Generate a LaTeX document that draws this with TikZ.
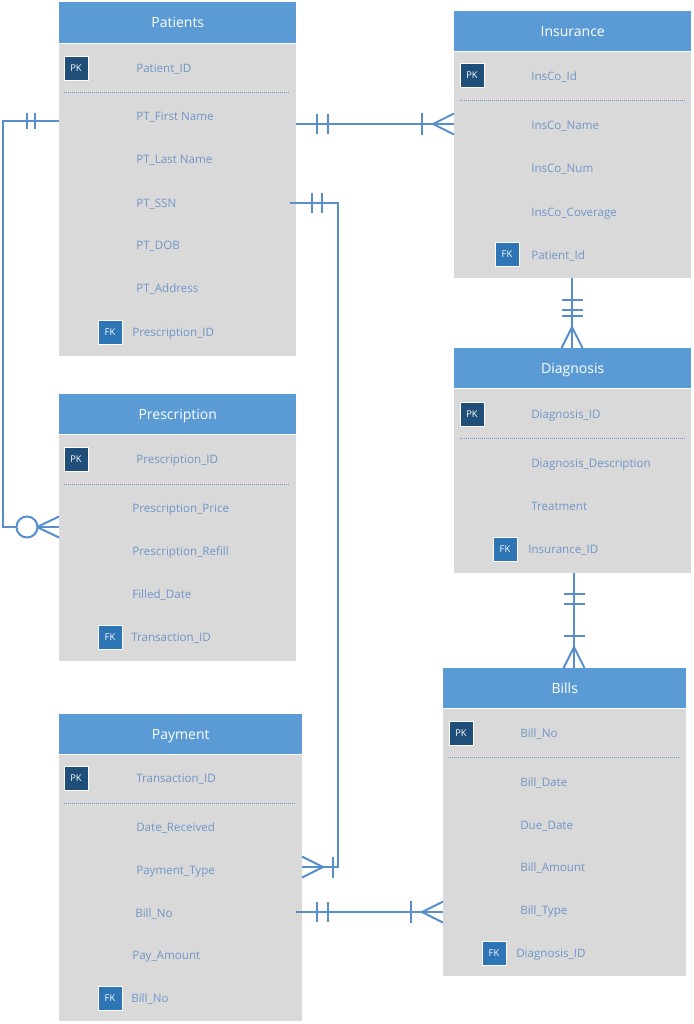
\documentclass[tikz,border=0pt]{standalone}
\usepackage{fontspec}
\setmainfont{Open Sans}
\definecolor{hdrblue}{RGB}{91,155,213}
\definecolor{bodygray}{RGB}{217,217,217}
\definecolor{pkblue}{RGB}{31,78,121}
\definecolor{fkblue}{RGB}{46,117,182}
\definecolor{txtblue}{RGB}{112,150,200}
\definecolor{lineblue}{RGB}{88,142,204}
\newcommand\erTable[7]{%
  \node[hdrbox, minimum width={(#4-#2)*0.75pt}, minimum height={(#5-#3)*0.75pt}] (#1H) at (#2,#3) {#7};
  \node[bodybox, minimum width={(#4-#2)*0.75pt}, minimum height={(#6-#5)*0.75pt}] (#1B) at (#2,#5) {};
  \draw[white, line width=1.2pt] (#1H.south west) -- (#1H.south east);
}
\newcommand\erField[4]{\node[fieldtxt] (#1) at (#2,#3) {#4};}
\newcommand\erPK[3]{\node[keybox, fill=pkblue] (#1) at (#2,#3) {PK};}
\newcommand\erFK[3]{\node[keybox, fill=fkblue] (#1) at (#2,#3) {FK};}
\begin{document}
\begin{tikzpicture}[x=0.75pt,y=-0.75pt,
  hdrbox/.style={fill=hdrblue, anchor=north west, inner sep=0pt, text=white, text height=7.6pt, text depth=0pt, font=\fontsize{10.5}{12}\selectfont},
  bodybox/.style={fill=bodygray, anchor=north west, inner sep=0pt},
  fieldtxt/.style={anchor=west, inner sep=0pt, text=txtblue, text height=6.2pt, text depth=0pt, font=\fontsize{8.7}{10}\selectfont},
  keybox/.style={draw=white, line width=0.6pt, minimum size=18pt, inner sep=0pt, text=white, text height=5pt, text depth=0pt, font=\fontsize{7}{8}\selectfont},
  sepline/.style={draw=txtblue, line width=0.6pt, dash pattern=on 0.75pt off 0.75pt},
  conn/.style={draw=lineblue, line width=1.5pt},
  tickmark/.style={draw=lineblue, line width=1.5pt}
]
\useasboundingbox[fill=white] (0,0) rectangle (693,1024);

% ---------- Patients ----------
\erTable{pat}{59}{2}{296}{43}{356}{Patients}
\erPK{patPK}{76}{68}
\erField{patF0}{136}{68}{Patient\_ID}
\draw[sepline] (64,92) -- (290,92);
\erField{patF1}{136}{116}{PT\_First Name}
\erField{patF2}{136}{159}{PT\_Last Name}
\erField{patF3}{136}{203}{PT\_SSN}
\erField{patF4}{136}{245}{PT\_DOB}
\erField{patF5}{136}{288}{PT\_Address}
\erFK{patFK}{110}{332}
\erField{patF6}{132}{332}{Prescription\_ID}

% ---------- Insurance ----------
\erTable{ins}{454}{11}{691}{51}{278}{Insurance}
\erPK{insPK}{472}{75}
\erField{insF0}{531}{76}{InsCo\_Id}
\draw[sepline] (460,100) -- (686,100);
\erField{insF1}{531}{125}{InsCo\_Name}
\erField{insF2}{531}{168}{InsCo\_Num}
\erField{insF3}{531}{212}{InsCo\_Coverage}
\erFK{insFK}{507}{254}
\erField{insF4}{531}{255}{Patient\_Id}

% ---------- Diagnosis ----------
\erTable{dia}{454}{348}{691}{388}{573}{Diagnosis}
\erPK{diaPK}{472}{414}
\erField{diaF0}{531}{414}{Diagnosis\_ID}
\draw[sepline] (460,438) -- (686,438);
\erField{diaF1}{531}{463}{Diagnosis\_Description}
\erField{diaF2}{531}{506}{Treatment}
\erFK{diaFK}{505}{549}
\erField{diaF3}{528}{549}{Insurance\_ID}

% ---------- Prescription ----------
\erTable{pre}{59}{394}{296}{434}{661}{Prescription}
\erPK{prePK}{76}{459}
\erField{preF0}{136}{459}{Prescription\_ID}
\draw[sepline] (64,484) -- (290,484);
\erField{preF1}{132}{508}{Prescription\_Price}
\erField{preF2}{132}{551}{Prescription\_Refill}
\erField{preF3}{132}{594}{Filled\_Date}
\erFK{preFK}{110}{637}
\erField{preF4}{131}{637}{Transaction\_ID}

% ---------- Bills ----------
\erTable{bil}{443}{668}{686}{708}{976}{Bills}
\erPK{bilPK}{461}{733}
\erField{bilF0}{520}{733}{Bill\_No}
\draw[sepline] (448,757) -- (680,757);
\erField{bilF1}{520}{782}{Bill\_Date}
\erField{bilF2}{520}{825}{Due\_Date}
\erField{bilF3}{520}{867}{Bill\_Amount}
\erField{bilF4}{520}{910}{Bill\_Type}
\erFK{bilFK}{494}{953}
\erField{bilF5}{516}{953}{Diagnosis\_ID}

% ---------- Payment ----------
\erTable{pay}{59}{714}{302}{754}{1021}{Payment}
\erPK{payPK}{76}{778}
\erField{payF0}{136}{778}{Transaction\_ID}
\draw[sepline] (64,803) -- (296,803);
\erField{payF1}{136}{827}{Date\_Received}
\erField{payF2}{136}{870}{Payment\_Type}
\erField{payF3}{135}{913}{Bill\_No}
\erField{payF4}{132}{955}{Pay\_Amount}
\erFK{payFK}{110}{998}
\erField{payF5}{131}{998}{Bill\_No}

% ---------- connector points ----------
\coordinate (patL) at (59,121);
\coordinate (k1a) at (3,121);
\coordinate (k1b) at (3,527);
\coordinate (preL) at (59,527);
\coordinate (patR) at (296,124);
\coordinate (insL) at (454,124);
\coordinate (patS) at (290,203);
\coordinate (k3a) at (338,203);
\coordinate (k3b) at (338,867);
\coordinate (payR) at (302,867);
\coordinate (payB) at (296,912);
\coordinate (bilL) at (443,912);
\coordinate (insB) at (572,278);
\coordinate (diaT) at (572,348);
\coordinate (diaB) at (574,573);
\coordinate (bilT) at (574,668);

% 1 Patients -> Prescription (one to zero-or-many)
\draw[conn] (patL) -- (k1a) -- (k1b) -- (preL);
\draw[tickmark] (27,113) -- (27,129) (35,113) -- (35,129);
\draw[tickmark, fill=white] (27,527) circle[radius=10.5];
\draw[tickmark] (37,527) -- (59,516.5) (37,527) -- (59,537.5);

% 2 Patients -> Insurance (one to one-or-many)
\draw[conn] (patR) -- (insL);
\draw[tickmark] (317,114) -- (317,134) (328,114) -- (328,134);
\draw[tickmark] (422,113) -- (422,135);
\draw[tickmark] (433,124) -- (454,113.5) (433,124) -- (454,134.5);

% 3 Patients (SSN) -> Payment
\draw[conn] (patS) -- (k3a) -- (k3b) -- (payR);
\draw[tickmark] (312,193) -- (312,213) (322,193) -- (322,213);
\draw[tickmark] (333,857) -- (333,878);
\draw[tickmark] (323,867) -- (302,856.5) (323,867) -- (302,877.5);

% 4 Payment -> Bills
\draw[conn] (payB) -- (bilL);
\draw[tickmark] (317,902) -- (317,922) (328,902) -- (328,922);
\draw[tickmark] (411,901) -- (411,923);
\draw[tickmark] (422,912) -- (443,901.5) (422,912) -- (443,922.5);

% 5 Insurance -> Diagnosis
\draw[conn] (insB) -- (diaT);
\draw[tickmark] (562,300) -- (583,300) (562,310) -- (583,310) (562,316) -- (583,316);
\draw[tickmark] (572,327) -- (561.5,348) (572,327) -- (582.5,348);

% 6 Diagnosis -> Bills
\draw[conn] (diaB) -- (bilT);
\draw[tickmark] (564,594) -- (585,594) (564,604) -- (585,604) (564,636) -- (585,636);
\draw[tickmark] (574,647) -- (563.5,668) (574,647) -- (584.5,668);
\end{tikzpicture}
\end{document}
